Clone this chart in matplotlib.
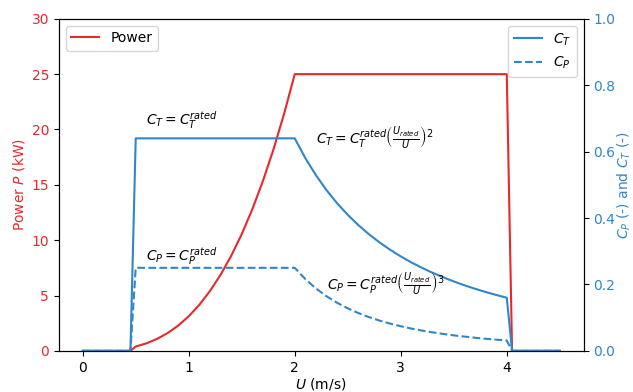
import matplotlib
matplotlib.use("Agg")
import matplotlib.pyplot as plt

# wind speed samples (m/s)
U = [0.0, 0.45, 0.5, 0.6, 0.7, 0.8, 0.9, 1.0, 1.1, 1.2, 1.3, 1.4, 1.5, 1.6,
     1.7, 1.8, 1.9, 2.0, 2.1, 2.2, 2.3, 2.4, 2.5, 2.6, 2.7, 2.8, 2.9, 3.0,
     3.1, 3.2, 3.3, 3.4, 3.5, 3.6, 3.7, 3.8, 3.9, 4.0, 4.05, 4.5]

# power output (kW)
power = [0.0, 0.0, 0.391, 0.675, 1.072, 1.6, 2.278, 3.125, 4.159, 5.4,
         6.866, 8.575, 10.547, 12.8, 15.353, 18.225, 21.434, 25.0,
         25.0, 25.0, 25.0, 25.0, 25.0, 25.0, 25.0, 25.0, 25.0, 25.0,
         25.0, 25.0, 25.0, 25.0, 25.0, 25.0, 25.0, 25.0, 25.0, 25.0, 0.0, 0.0]

# thrust coefficient
ct = [0.0, 0.0, 0.64, 0.64, 0.64, 0.64, 0.64, 0.64, 0.64, 0.64, 0.64, 0.64,
      0.64, 0.64, 0.64, 0.64, 0.64, 0.64, 0.5805, 0.5289, 0.4839, 0.4444,
      0.4096, 0.3787, 0.3512, 0.3265, 0.3044, 0.2844, 0.2664, 0.25, 0.2351,
      0.2215, 0.2090, 0.1975, 0.1870, 0.1773, 0.1683, 0.16, 0.0, 0.0]

# power coefficient
cp = [0.0, 0.0, 0.25, 0.25, 0.25, 0.25, 0.25, 0.25, 0.25, 0.25, 0.25, 0.25,
      0.25, 0.25, 0.25, 0.25, 0.25, 0.25, 0.2160, 0.1878, 0.1644, 0.1447,
      0.128, 0.1138, 0.1016, 0.0911, 0.0820, 0.0741, 0.0671, 0.0610, 0.0557,
      0.0509, 0.0466, 0.0429, 0.0395, 0.0364, 0.0337, 0.03125, 0.0, 0.0]

red = '#e8282b'
blue = '#2f86c8'

fig, ax = plt.subplots(figsize=(6.33, 3.92), dpi=100)
fig.subplots_adjust(left=0.093, right=0.922, top=0.952, bottom=0.105)

ax.plot(U, power, color=red, lw=1.5, label='Power')
ax.set_ylim(0, 30)
ax.set_xticks([0, 1, 2, 3, 4])
ax.set_xlabel('$U$ (m/s)', labelpad=1)
ax.set_ylabel('Power $P$ (kW)', color=red, labelpad=3)
ax.tick_params(axis='y', labelcolor=red)
ax.legend(loc='upper left')

ax2 = ax.twinx()
ax2.plot(U, ct, color=blue, lw=1.5, label='$C_T$')
ax2.plot(U, cp, color=blue, lw=1.5, ls='--', label='$C_P$')
ax2.set_ylim(0, 1)
ax2.set_ylabel('$C_P$ (-) and $C_T$ (-)', color=blue, labelpad=0)
ax2.tick_params(axis='y', labelcolor=blue)
ax2.legend(loc='upper right')

# regime annotations
ax2.text(0.6, 0.68, r'$C_T = C_T^{rated}$', fontsize=10)
ax2.text(0.6, 0.27, r'$C_P = C_P^{rated}$', fontsize=10)
ax2.text(2.2, 0.625, r'$C_T = C_T^{rated}\left(\frac{U_{rated}}{U}\right)^2$',
         fontsize=10)
ax2.text(2.3, 0.185, r'$C_P = C_P^{rated}\left(\frac{U_{rated}}{U}\right)^3$',
         fontsize=10)

fig.savefig('out.png', dpi=100)
